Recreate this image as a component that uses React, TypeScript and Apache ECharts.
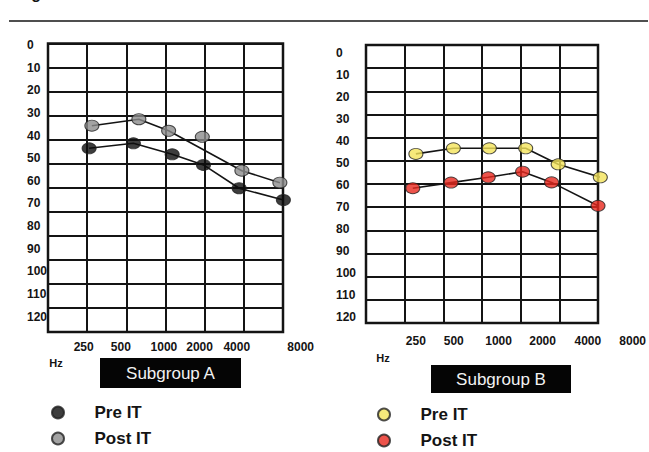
import React, { useEffect, useRef } from "react";
import * as echarts from "echarts";

// Frequency index: 0 = left edge of audiogram, 1 = 250 Hz ... 6 = 8000 Hz
const freqLabels = ["250", "500", "1000", "2000", "4000", "8000"];
const dbTicks = [0, 10, 20, 30, 40, 50, 60, 70, 80, 90, 100, 110, 120];

// [frequency index, hearing level dB]
const preA = [[1.05, 43.6], [2.18, 41.5], [3.17, 46.1], [3.97, 50.5], [4.88, 60.2], [6.01, 65.1]];
const postA = [[1.12, 34.2], [2.32, 31.5], [3.08, 36.3], [3.94, 38.8], [4.95, 52.9], [5.92, 57.9]];
const preB = [[1.29, 47.0], [2.26, 44.6], [3.19, 44.6], [4.13, 44.6], [4.97, 51.5], [6.06, 57.1]];
const postB = [[1.21, 61.8], [2.2, 59.4], [3.16, 57.1], [4.05, 54.7], [4.8, 59.3], [6.0, 69.4]];

// tick-label anchor positions (frequency index) as printed in the figure
const xLabelPosA = [0.91, 1.86, 2.96, 3.87, 4.82, 6.45];
const xLabelPosB = [1.29, 2.27, 3.43, 4.57, 5.74, 6.9];

const INK = "#141414";
const BOLD = "'Liberation Sans', Arial, sans-serif";

export default function App() {
  const ref = useRef<HTMLDivElement>(null);
  useEffect(() => {
    document.body.style.margin = "0";
    const chart = echarts.init(ref.current!, null, { renderer: "svg" });
    const GA = { left: 48, top: 43.5, width: 235, height: 288.5 };
    const GB = { left: 366, top: 45, width: 232, height: 278 };
    const gridLineStyle = { color: INK, width: 2 };
    const mainX = (gi: number) => ({
      type: "value", gridIndex: gi, min: 0, max: 6, interval: 1,
      axisLine: { show: false }, axisTick: { show: false }, axisLabel: { show: false },
      splitLine: { show: true, lineStyle: gridLineStyle },
    });
    const mainY = (gi: number) => ({
      type: "value", gridIndex: gi, min: 0, max: 120, interval: 10, inverse: true,
      axisLine: { show: false }, axisTick: { show: false }, axisLabel: { show: false },
      splitLine: { show: true, lineStyle: gridLineStyle },
    });
    const labelX = (gi: number, pos: number[], margin: number) => ({
      type: "value", gridIndex: gi, min: 0, max: 7, position: "bottom",
      axisLine: { show: false }, axisTick: { show: false }, splitLine: { show: false },
      axisLabel: {
        customValues: pos, margin, fontFamily: BOLD, fontWeight: "bold", fontSize: 12, color: INK,
        formatter: (v: number, i: number) => {
          const k = pos.indexOf(v);
          return freqLabels[k >= 0 ? k : i] ?? "";
        },
      },
    });
    const labelY = (gi: number, min: number, max: number, margin: number) => ({
      type: "value", gridIndex: gi, min, max, inverse: true, position: "left",
      axisLine: { show: false }, axisTick: { show: false }, splitLine: { show: false },
      axisLabel: {
        customValues: dbTicks, margin, align: "left", fontFamily: BOLD, fontWeight: "bold",
        fontSize: 12, color: INK,
      },
    });
    const pts = (name: string, data: number[][], color: string, xi: number) => ({
      name, type: "scatter", xAxisIndex: xi, yAxisIndex: xi, data, clip: false, z: 5,
      symbol: "circle", symbolSize: [14, 11],
      itemStyle: { color, borderColor: "#222", borderWidth: 1 },
    });
    const conn = (data: number[][], xi: number) => ({
      type: "line", xAxisIndex: xi, yAxisIndex: xi, data, clip: false, z: 3,
      showSymbol: false, symbol: "none", silent: true,
      lineStyle: { color: INK, width: 1.6 },
    });
    const legend = (names: string[], left: number, top: number) => ({
      data: names, orient: "vertical", left, top, height: 60, padding: 0,
      itemWidth: 13, itemHeight: 12, itemGap: 9,
      icon: "circle",
      formatter: (n: string) => n.replace(/ \([AB]\)$/, ""),
      textStyle: {
        fontFamily: BOLD, fontWeight: "bold", fontSize: 17, color: INK, lineHeight: 12,
        padding: [0, 0, 0, 25],
      },
      selectedMode: false,
    });
    chart.setOption({
      animation: false,
      backgroundColor: "#ffffff",
      grid: [
        { ...GA, show: true, borderColor: INK, borderWidth: 2.5, backgroundColor: "transparent" },
        { ...GB, show: true, borderColor: INK, borderWidth: 2.5, backgroundColor: "transparent" },
        { left: GA.left, top: GA.top, width: (GA.width / 6) * 7, height: GA.height },
        { left: GB.left, top: GB.top, width: (GB.width / 6) * 7, height: GB.height },
      ],
      xAxis: [mainX(0), mainX(1), labelX(2, xLabelPosA, 9), labelX(3, xLabelPosB, 12)],
      yAxis: [mainY(0), mainY(1), labelY(2, -0.66, 126.8, 21), labelY(3, -3.8, 122.9, 30)],
      legend: [
        legend(["Pre IT (A)", "Post IT (A)"], 51, 404),
        legend(["Pre IT (B)", "Post IT (B)"], 377, 406),
      ],
      series: [
        conn(preA, 0),
        conn(postA.filter((_, i) => i !== 3), 0),
        conn(preB, 1),
        conn(postB, 1),
        pts("Pre IT (A)", preA, "#0d0d0d", 0),
        pts("Post IT (A)", postA, "#8c8c8c", 0),
        pts("Pre IT (B)", preB, "#f4e45a", 1),
        pts("Post IT (B)", postB, "#e8281e", 1),
      ],
      graphic: [
        { type: "line", shape: { x1: 9, y1: 21, x2: 648, y2: 21 }, style: { stroke: INK, lineWidth: 1.5 } },
        { type: "text", x: 17, y: 1, style: { text: "Fig", font: `bold 16px ${BOLD}`, fill: INK, verticalAlign: "bottom" } },
        { type: "text", x: 56, y: 363, style: { text: "Hz", font: `bold 11px ${BOLD}`, fill: INK, align: "center", verticalAlign: "middle" } },
        { type: "text", x: 383, y: 358, style: { text: "Hz", font: `bold 11px ${BOLD}`, fill: INK, align: "center", verticalAlign: "middle" } },
        { type: "rect", shape: { x: 100, y: 358, width: 141, height: 30 }, style: { fill: "#050505" } },
        { type: "text", x: 170.5, y: 373, style: { text: "Subgroup A", font: `17px ${BOLD}`, fill: "#f2f2f2", align: "center", verticalAlign: "middle" } },
        { type: "rect", shape: { x: 431, y: 365, width: 140, height: 28 }, style: { fill: "#050505" } },
        { type: "text", x: 501, y: 379, style: { text: "Subgroup B", font: `17px ${BOLD}`, fill: "#f2f2f2", align: "center", verticalAlign: "middle" } },
      ],
    });
    return () => chart.dispose();
  }, []);
  return <div ref={ref} style={{ width: 649, height: 452 }} />;
}
